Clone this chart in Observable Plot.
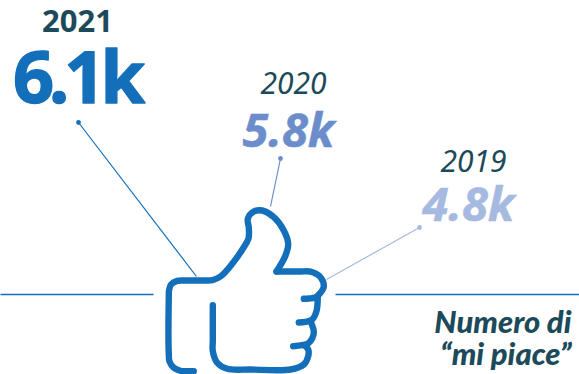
<!DOCTYPE html>
<html>
<head>
<meta charset="utf-8">
<script src="https://cdn.jsdelivr.net/npm/d3@7"></script>
<script src="https://cdn.jsdelivr.net/npm/@observablehq/plot@0.6"></script>
<style>
  html, body { margin: 0; padding: 0; background: #fff; }
  svg { display: block; }
</style>
</head>
<body>
<div id="chart"></div>
<script>
// Likes per year
const years = ["2021", "2020", "2019"];
const likes = [6.1, 5.8, 4.8];
const seriesColors = ["#136fb9", "#6b8dcb", "#a6b9e0"];
const ink = "#1c4a5a";

// Label layout on the page grid
const yearX = [77, 293, 473];
const yearY = [22, 84, 162];
const yearSize = [31, 30, 30];
const valueX = [76, 288, 468];
const valueY = [79, 131, 205];
const valueSize = [72, 47, 47];
const valueHalo = [1.4, 0.5, 0.5];
const valueTracking = [-5, 0, 0];
const styleOf = ["normal", "italic", "italic"];

// Leaders from each label to the hand
const leaderX1 = [78, 280, 419];
const leaderY1 = [122, 158, 227];
const leaderX2 = [196, 270, 326];
const leaderY2 = [276, 206, 279];

// Horizontal baseline, interrupted behind the hand
const ruleX1 = [0, 335];
const ruleX2 = [153, 579];
const ruleY = 294;

// Hand outline, one list per stroke
const handStrokes = [
  [[193.3,370.7],[186,370.6],[180,370.3],[173.3,367.3],[169,361],[168.3,354],[168.3,296],[168.5,290],[170.5,284],[176.7,280.4],[184,280],[205,280],[212,279.6],[220,276],[231.7,263.3],[243.3,246.7],[248,238],[248.3,227],[247.3,218.3],[253.3,211],[261.7,210],[273.3,216.7],[283.3,230],[287.7,243.3],[285,255],[276,271]],
  [[276,271],[300,271],[310,271.2],[320,276.7],[323.3,286],[320,292.3],[315,297],[308.3,298],[303.3,298.3]],
  [[317.3,296],[316,310.7],[311.7,319],[305,321.3],[298.3,322]],
  [[310,321],[313.3,332.3],[308.3,342.3],[301.7,344.7],[292.7,345.7]],
  [[304,345],[307.7,349],[307.7,355.7],[303.3,364],[290,369],[250,369],[226.7,368.3],[216.7,362.3],[212.3,350.7],[212.3,340],[212.3,304.7]]
];
const handPoints = handStrokes.flatMap((s, i) => s.map(([x, y]) => ({x, y, i})));

const idx = d3.range(years.length);

const plot = Plot.plot({
  width: 579,
  height: 374,
  margin: 0,
  x: {domain: [0, 579], range: [0, 579], axis: null},
  y: {domain: [0, 374], range: [0, 374], axis: null},
  marks: [
    Plot.link(ruleX1.map((_, i) => i), {
      x1: i => ruleX1[i], x2: i => ruleX2[i],
      y1: () => ruleY, y2: () => ruleY,
      stroke: seriesColors[0], strokeWidth: 1.3
    }),
    Plot.link(idx, {
      x1: i => leaderX1[i], y1: i => leaderY1[i],
      x2: i => leaderX2[i], y2: i => leaderY2[i],
      stroke: i => seriesColors[i], strokeWidth: 1.2
    }),
    Plot.dot(idx, {
      x: i => leaderX1[i], y: i => leaderY1[i], r: 2.4,
      fill: i => seriesColors[i]
    }),
    Plot.line(handPoints, {
      x: "x", y: "y", z: "i", curve: "catmull-rom",
      stroke: seriesColors[0], strokeWidth: 6.4,
      strokeLinecap: "round", strokeLinejoin: "round"
    }),
    ...idx.map(i => Plot.text([years[i]], {
      x: () => yearX[i], y: () => yearY[i], text: d => d,
      fontFamily: "Noto Sans", fontSize: yearSize[i],
      fontWeight: i === 0 ? 700 : 400, fontStyle: styleOf[i],
      fill: ink, lineAnchor: "middle"
    })),
    ...idx.map(i => Plot.text([likes[i]], {
      x: () => valueX[i], y: () => valueY[i], text: d => `${d}k`,
      fontFamily: "Noto Sans", fontSize: valueSize[i],
      fontWeight: 700, fontStyle: styleOf[i],
      fill: seriesColors[i], stroke: seriesColors[i], strokeWidth: valueHalo[i],
      lineAnchor: "middle"
    })),
    Plot.text(["Numero di\n“mi piace”"], {
      x: () => 571, y: () => 338, text: d => d,
      textAnchor: "end", lineAnchor: "middle", lineHeight: 1.04,
      fontFamily: "Lato", fontSize: 31, fontWeight: 900, fontStyle: "italic",
      fill: ink
    })
  ]
});

// Tighter tracking on the headline figure
d3.select(plot).selectAll("text").filter(function () {
  return likes.some((v, i) => this.textContent === `${v}k` && valueTracking[i] !== 0);
}).style("letter-spacing", `${valueTracking[0]}px`);

document.getElementById("chart").append(plot);
</script>
</body>
</html>
